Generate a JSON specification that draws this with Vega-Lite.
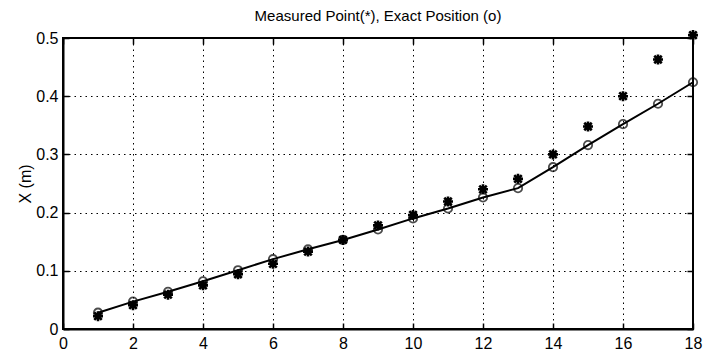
{
  "$schema": "https://vega.github.io/schema/vega-lite/v6.json",
  "width": 630,
  "height": 291,
  "autosize": "none",
  "padding": {"left": 63, "top": 38, "right": 27, "bottom": 33},
  "background": "white",
  "title": {
    "text": "Measured Point(*), Exact Position (o)",
    "font": "Liberation Sans Narrow, Liberation Sans, Arial",
    "fontSize": 15,
    "fontWeight": "normal",
    "color": "black",
    "offset": 1,
    "anchor": "middle"
  },
  "config": {
    "view": {"stroke": "black", "strokeWidth": 2},
    "axis": {
      "labelFont": "Liberation Sans Narrow, Liberation Sans, Arial",
      "labelFontSize": 16,
      "labelColor": "black",
      "titleFont": "Liberation Sans Narrow, Liberation Sans, Arial",
      "titleFontSize": 16,
      "titleFontWeight": "normal",
      "titleColor": "black",
      "domainColor": "black",
      "domainWidth": 2,
      "tickColor": "black",
      "tickWidth": 1.5,
      "tickSize": -6,
      "gridColor": "black",
      "gridOpacity": 1,
      "gridWidth": 1,
      "gridDash": [1.5, 4]
    }
  },
  "resolve": {"axis": {"x": "independent", "y": "independent"}},
  "data": {
    "values": [
      {"k": 1, "exact": 0.028, "measured": 0.022},
      {"k": 2, "exact": 0.047, "measured": 0.041},
      {"k": 3, "exact": 0.064, "measured": 0.059},
      {"k": 4, "exact": 0.082, "measured": 0.075},
      {"k": 5, "exact": 0.101, "measured": 0.094},
      {"k": 6, "exact": 0.120, "measured": 0.112},
      {"k": 7, "exact": 0.137, "measured": 0.133},
      {"k": 8, "exact": 0.153, "measured": 0.153},
      {"k": 9, "exact": 0.171, "measured": 0.178},
      {"k": 10, "exact": 0.190, "measured": 0.196},
      {"k": 11, "exact": 0.207, "measured": 0.219},
      {"k": 12, "exact": 0.226, "measured": 0.240},
      {"k": 13, "exact": 0.242, "measured": 0.258},
      {"k": 14, "exact": 0.278, "measured": 0.300},
      {"k": 15, "exact": 0.316, "measured": 0.348},
      {"k": 16, "exact": 0.352, "measured": 0.400},
      {"k": 17, "exact": 0.387, "measured": 0.463},
      {"k": 18, "exact": 0.424, "measured": 0.505}
    ]
  },
  "layer": [
    {
      "mark": {"type": "line", "color": "black", "strokeWidth": 2, "clip": false},
      "encoding": {
        "x": {"field": "k", "type": "quantitative", "scale": {"domain": [0, 18], "nice": false},
              "axis": {"orient": "bottom", "values": [0,2,4,6,8,10,12,14,16,18], "title": null, "grid": true, "labelPadding": 12, "labelFlush": false}},
        "y": {"field": "exact", "type": "quantitative", "scale": {"domain": [0, 0.5], "nice": false},
              "axis": {"orient": "left", "values": [0,0.1,0.2,0.3,0.4,0.5], "format": "~g", "title": "X (m)", "grid": true, "labelPadding": 11, "titlePadding": 2, "labelFlush": false}}
      }
    },
    {
      "mark": {"type": "point", "shape": "circle", "filled": false, "color": "black", "size": 70, "strokeWidth": 1.8, "clip": false},
      "encoding": {
        "x": {"field": "k", "type": "quantitative", "axis": {"orient": "top", "values": [0,2,4,6,8,10,12,14,16,18], "labels": false, "title": null, "grid": false, "domain": false}},
        "y": {"field": "exact", "type": "quantitative", "axis": {"orient": "right", "values": [0,0.1,0.2,0.3,0.4,0.5], "labels": false, "title": null, "grid": false, "domain": false}}
      }
    },
    {
      "mark": {"type": "point", "shape": "M-1,0L1,0M0,-1L0,1M-0.75,-0.75L0.75,0.75M-0.75,0.75L0.75,-0.75", "filled": false, "color": "black", "opacity": 1, "size": 100, "strokeWidth": 2.6, "clip": false},
      "encoding": {
        "x": {"field": "k", "type": "quantitative", "axis": null},
        "y": {"field": "measured", "type": "quantitative", "axis": null}
      }
    }
  ]
}
